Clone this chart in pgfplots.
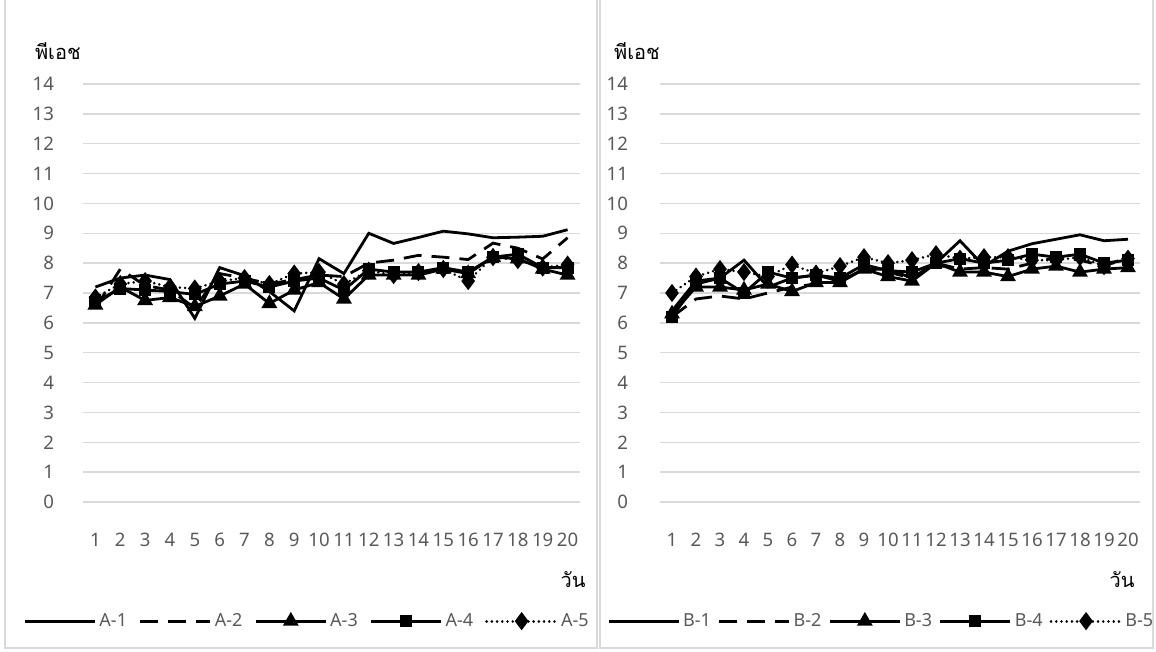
\documentclass[border=0pt]{standalone}
\usepackage{pgfplots}
\pgfplotsset{compat=1.18}
\usepackage{fontspec}
\setmainfont{Noto Sans}
\newfontfamily\thaifont[Script=Thai]{Loma}
\definecolor{gridc}{HTML}{D9D9D9}
\definecolor{txt}{HTML}{595959}
\pgfplotsset{
 chartbase/.style={
   scale only axis, height=209pt,
   ymin=0, ymax=14, ytick={0,...,14},
   xmin=0.5, xmax=20.5, xtick={1,...,20},
   axis line style={draw=none}, major tick length=0pt,
   ymajorgrids, grid style={gridc, line width=0.7pt},
   tick label style={font=\fontsize{9.3}{11}\selectfont, text=txt},
   /pgf/number format/assume math mode=true,
   yticklabel style={xshift=-11pt},
   xticklabel style={yshift=-12pt},
   clip=false,
   legend columns=5,
   legend style={draw=none, fill=none, font=\fontsize{9}{11}\selectfont, text=txt,
     /tikz/every odd column/.append style={column sep=0pt},
     nodes={inner xsep=1.5pt}},
   legend cell align=left,
   legend image code/.code={\draw[mark repeat=2,mark phase=2] plot coordinates {(0pt,0pt) (17.5pt,0pt) (35pt,0pt)};},
 },
 s1/.style={black, line width=1.4pt, mark=none},
 s2/.style={black, line width=1.4pt, dash pattern=on 9pt off 5pt, mark=none},
 s3/.style={black, line width=1.4pt, mark=triangle*, mark size=3.2pt, mark options={solid}},
 s4/.style={black, line width=1.4pt, mark=square*, mark size=2.3pt, mark options={solid}},
 s5/.style={black, line width=1.4pt, dash pattern=on 0.01pt off 2.6pt, line cap=round, mark=diamond*, mark size=3.4pt, mark options={solid}},
}
\begin{document}
\begin{tikzpicture}
\useasboundingbox (0,0) rectangle (578pt,326pt);
\draw[gridc, line width=0.7pt] (2.5pt,2pt) rectangle (298.5pt,340pt);
\draw[gridc, line width=0.7pt] (300pt,2pt) rectangle (576.5pt,340pt);
\node[anchor=base west, text=black, font=\thaifont\fontsize{10}{12}\selectfont] at (14pt,296pt) {พีเอช};
\node[anchor=base west, text=black, font=\thaifont\fontsize{10}{12}\selectfont] at (303.5pt,296pt) {พีเอช};
\node[text=black, font=\thaifont\fontsize{10}{12}\selectfont] at (286.5pt,36pt) {วัน};
\node[text=black, font=\thaifont\fontsize{10}{12}\selectfont] at (561pt,36pt) {วัน};

\begin{axis}[chartbase, width=248.5pt, at={(41.5pt,75pt)}, anchor=south west,
  legend style={at={(0.452,-0.285)}, anchor=center,
    /tikz/every even column/.append style={column sep=4.5pt}}]
\addplot[s1] coordinates {(1,7.2)(2,7.5)(3,7.6)(4,7.45)(5,6.15)(6,7.85)(7,7.58)(8,7.05)(9,6.4)(10,8.15)(11,7.65)(12,9.0)(13,8.66)(14,8.86)(15,9.07)(16,8.98)(17,8.85)(18,8.87)(19,8.9)(20,9.12)};
\addlegendentry{A-1}
\addplot[s2] coordinates {(1,6.5)(2,7.8)(3,7.25)(4,7.1)(5,6.5)(6,7.65)(7,7.5)(8,7.3)(9,7.45)(10,7.6)(11,7.55)(12,8.0)(13,8.1)(14,8.26)(15,8.2)(16,8.12)(17,8.67)(18,8.5)(19,8.14)(20,8.85)};
\addlegendentry{A-2}
\addplot[s3] coordinates {(1,6.6)(2,7.2)(3,6.75)(4,6.85)(5,6.55)(6,6.9)(7,7.3)(8,6.65)(9,7.1)(10,7.35)(11,6.8)(12,7.6)(13,7.6)(14,7.6)(15,7.8)(16,7.65)(17,8.2)(18,8.15)(19,7.8)(20,7.6)};
\addlegendentry{A-3}
\addplot[s4] coordinates {(1,6.7)(2,7.15)(3,7.1)(4,7.05)(5,6.95)(6,7.3)(7,7.4)(8,7.2)(9,7.4)(10,7.5)(11,7.1)(12,7.8)(13,7.7)(14,7.7)(15,7.85)(16,7.7)(17,8.2)(18,8.3)(19,7.85)(20,7.85)};
\addlegendentry{A-4}
\addplot[s5] coordinates {(1,6.85)(2,7.3)(3,7.4)(4,7.2)(5,7.15)(6,7.4)(7,7.5)(8,7.3)(9,7.65)(10,7.7)(11,7.3)(12,7.75)(13,7.6)(14,7.7)(15,7.8)(16,7.4)(17,8.2)(18,8.1)(19,7.85)(20,7.95)};
\addlegendentry{A-5}
\end{axis}

\begin{axis}[chartbase, width=240pt, at={(330pt,75pt)}, anchor=south west,
  yticklabel style={xshift=-1.5pt},
  legend style={at={(0.462,-0.285)}, anchor=center,
    /tikz/every even column/.append style={column sep=2pt}}]
\addplot[s1] coordinates {(1,6.4)(2,7.4)(3,7.5)(4,8.1)(5,7.2)(6,7.5)(7,7.6)(8,7.4)(9,7.8)(10,7.8)(11,7.5)(12,8.0)(13,8.75)(14,7.9)(15,8.4)(16,8.65)(17,8.8)(18,8.95)(19,8.75)(20,8.8)};
\addlegendentry{B-1}
\addplot[s2] coordinates {(1,6.2)(2,6.8)(3,6.9)(4,6.8)(5,7.0)(6,7.2)(7,7.3)(8,7.5)(9,7.8)(10,7.7)(11,7.5)(12,8.0)(13,7.8)(14,7.85)(15,7.8)(16,8.0)(17,8.2)(18,8.1)(19,7.9)(20,8.2)};
\addlegendentry{B-2}
\addplot[s3] coordinates {(1,6.3)(2,7.2)(3,7.2)(4,7.1)(5,7.3)(6,7.05)(7,7.35)(8,7.35)(9,7.8)(10,7.55)(11,7.4)(12,8.0)(13,7.7)(14,7.7)(15,7.55)(16,7.8)(17,7.9)(18,7.7)(19,7.8)(20,7.85)};
\addlegendentry{B-3}
\addplot[s4] coordinates {(1,6.2)(2,7.3)(3,7.5)(4,7.0)(5,7.7)(6,7.5)(7,7.6)(8,7.5)(9,7.95)(10,7.75)(11,7.7)(12,8.0)(13,8.15)(14,8.0)(15,8.1)(16,8.3)(17,8.2)(18,8.3)(19,8.0)(20,8.1)};
\addlegendentry{B-4}
\addplot[s5] coordinates {(1,7.0)(2,7.55)(3,7.8)(4,7.7)(5,7.55)(6,7.95)(7,7.65)(8,7.9)(9,8.2)(10,8.0)(11,8.1)(12,8.3)(13,8.15)(14,8.2)(15,8.2)(16,8.1)(17,8.1)(18,8.2)(19,7.9)(20,8.15)};
\addlegendentry{B-5}
\end{axis}
\end{tikzpicture}
\end{document}
